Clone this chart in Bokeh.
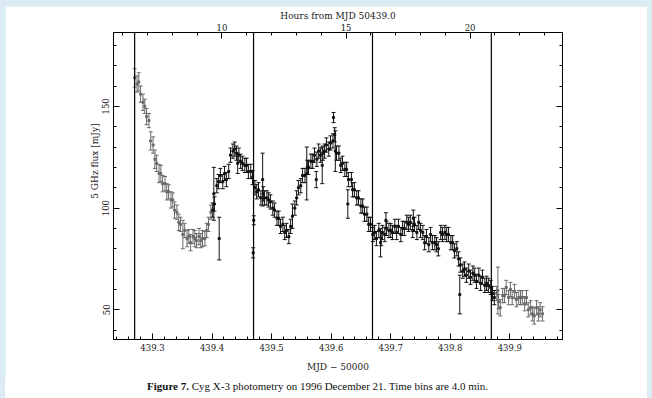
import numpy as np
from bokeh.plotting import figure
from bokeh.models import (ColumnDataSource, Whisker, TeeHead, Span, LinearAxis, Range1d,
                          SingleIntervalTicker, Title, CustomJSTickFormatter, Div)
from bokeh.layouts import column
from bokeh.embed import file_html
from bokeh.resources import INLINE

# ---------------- data (MJD - 50000, 5 GHz flux [mJy], 1-sigma error) ----------------
mjd = [
    439.270, 439.274, 439.277, 439.280, 439.284, 439.287, 439.290, 439.294, 439.297, 439.301,
    439.304, 439.307, 439.311, 439.314, 439.317, 439.321, 439.324, 439.327, 439.331, 439.334,
    439.337, 439.341, 439.344, 439.347, 439.351, 439.354, 439.358, 439.361, 439.364, 439.368,
    439.371, 439.374, 439.378, 439.381, 439.384, 439.388, 439.391, 439.394, 439.398, 439.401,
    439.403, 439.404, 439.408, 439.411, 439.412, 439.414, 439.418, 439.421, 439.424, 439.428,
    439.431, 439.435, 439.438, 439.441, 439.443, 439.445, 439.448, 439.451, 439.455, 439.458,
    439.461, 439.465, 439.468, 439.469, 439.470,
    439.472, 439.475, 439.478, 439.482, 439.485, 439.486, 439.488, 439.492, 439.495, 439.498,
    439.502, 439.505, 439.509, 439.512, 439.515, 439.519, 439.522, 439.525, 439.529, 439.532,
    439.535, 439.539, 439.542, 439.545, 439.549, 439.552, 439.556, 439.559, 439.560, 439.562,
    439.566, 439.569, 439.572, 439.575, 439.576, 439.579, 439.582, 439.585, 439.586, 439.589,
    439.592, 439.596, 439.599, 439.603, 439.604, 439.606, 439.607, 439.609, 439.613, 439.616,
    439.619, 439.623, 439.626, 439.628, 439.629, 439.634, 439.636, 439.639, 439.643, 439.646,
    439.650, 439.653, 439.656, 439.660, 439.663, 439.666, 439.670,
    439.673, 439.676, 439.680, 439.683, 439.684, 439.686, 439.690, 439.692, 439.693, 439.697,
    439.700, 439.703, 439.707, 439.710, 439.713, 439.717, 439.720, 439.723, 439.727, 439.730,
    439.733, 439.737, 439.738, 439.740, 439.744, 439.747, 439.750, 439.754, 439.757, 439.760,
    439.764, 439.767, 439.770, 439.774, 439.777, 439.780, 439.784, 439.787, 439.791, 439.794,
    439.797, 439.801, 439.804, 439.807, 439.811, 439.814, 439.816, 439.817, 439.821, 439.824,
    439.827, 439.831, 439.834, 439.838, 439.841, 439.844, 439.848, 439.851, 439.854, 439.858,
    439.861, 439.864, 439.868, 439.871,
    439.874, 439.878, 439.880, 439.881, 439.884, 439.888, 439.891, 439.894, 439.898, 439.901,
    439.904, 439.908, 439.911, 439.915, 439.918, 439.921, 439.925, 439.928, 439.931, 439.935,
    439.938, 439.941, 439.945, 439.948, 439.951, 439.955,
]
flux = [
    164, 161, 162, 156, 152, 150, 145, 143, 133, 131,
    124, 122, 117, 117, 112, 112, 108, 108, 104, 104,
    99, 98, 93, 92, 87, 89, 85, 86, 83, 86,
    85, 84, 86, 84, 85, 85, 89, 92, 98, 99,
    107, 102, 111, 113, 85, 116, 113, 117, 114, 118,
    126, 128, 129, 127, 122, 126, 123, 122, 121, 121,
    118, 118, 115, 78, 94,
    110, 108, 109, 105, 114, 107, 105, 105, 104, 103,
    100, 99, 95, 95, 91, 92, 88, 89, 86, 91,
    96, 100, 105, 110, 111, 116, 116, 117, 120, 120,
    123, 123, 126, 114, 124, 128, 126, 121, 127, 128,
    131, 129, 132, 133, 144.5, 136, 128, 127, 127, 121,
    122, 119, 119, 102, 114, 114, 109, 109, 105, 105,
    101, 101, 97, 97, 92, 92, 87,
    88, 85, 89, 83, 85, 88, 87, 94, 90, 89,
    89, 88, 91, 88, 91, 87, 90, 90, 93, 92,
    93, 89, 95, 92, 88, 93, 89, 88, 83, 86,
    82, 87, 83, 83, 82, 80, 88, 87, 88, 87,
    87, 83, 83, 79, 80, 75, 57.5, 72, 69, 70,
    67, 69, 66, 68, 67, 64, 67, 63, 66, 62,
    63, 62, 61, 58,
    56, 58, 59.5, 54, 51, 57, 57, 61, 56, 60,
    56, 59, 55, 56, 56, 56, 53, 56, 50, 51,
    48, 47, 51, 48, 50, 48,
]
err = [
    4.5, 4, 4.5, 4, 4, 3.5, 4, 3.5, 4.5, 4,
    4.5, 4, 4.5, 4, 4, 3.5, 4, 3.5, 4, 3.5,
    4, 3.5, 4, 3.5, 7, 3.5, 4, 3.5, 4, 3.5,
    4, 3.5, 4, 3.5, 4, 3.5, 3.5, 3.5, 3.5, 3.5,
    13, 3.5, 3.5, 3.5, 10.5, 3.5, 3.5, 3.5, 3.5, 3.5,
    3.5, 3.5, 3.5, 3.5, 5, 3.5, 3.5, 3.5, 3.5, 3.5,
    3.5, 3.5, 3.5, 2.5, 2.2,
    3.5, 3.5, 3.5, 3.5, 13, 3.5, 3.5, 3.5, 3.5, 3.5,
    3.5, 3.5, 3.5, 3.5, 3.5, 3.5, 3.5, 3.5, 3.5, 3.5,
    6, 3.5, 3.5, 3.5, 3.5, 3.5, 3.5, 13, 3.5, 3.5,
    3.5, 3.5, 3.5, 4, 3.5, 3.5, 3.5, 9, 3.5, 3.5,
    3.5, 3.5, 3.5, 3.5, 2.5, 3.5, 10, 3.5, 3.5, 3.5,
    3.5, 3.5, 3.5, 7, 3.5, 3.5, 3.5, 3.5, 3.5, 3.5,
    3.5, 3.5, 3.5, 3.5, 3.5, 3.5, 3.5,
    3.5, 3.5, 3.5, 7, 3.5, 3.5, 3.5, 3.7, 3.5, 3.5,
    3.5, 3.5, 3.5, 3.5, 3.5, 3.5, 3.5, 3.5, 3.5, 3.5,
    3.5, 3.5, 4, 3.5, 3.5, 3.5, 3.5, 3.5, 3.5, 3.5,
    3.5, 3.5, 3.5, 3.5, 3.5, 3.5, 3.5, 3.5, 3.5, 3.5,
    3.5, 3.5, 3.5, 3.5, 3.5, 3.5, 9.5, 3.5, 3.5, 3.5,
    3.5, 3.5, 3.5, 3.5, 3.5, 3.5, 3.5, 3.5, 3.5, 3.5,
    3.5, 3.5, 3.5, 3.5,
    3.5, 3.5, 11.5, 3.5, 4, 3.5, 3.5, 3.5, 3.5, 3.5,
    3.5, 3.5, 3.5, 3.5, 3.5, 3.5, 3.5, 3.5, 3.5, 3.5,
    3.5, 4, 3.5, 3.5, 3.5, 3.5,
]
orbit_lines = [439.270, 439.4697, 439.6694, 439.869]   # Cyg X-3 orbital cycle markers
x_limits = [439.2345, 439.9885]
y_limits = [35.4, 186.3]
hours_origin = 439.0

t = np.array(mjd)
f = np.array(flux)
e = np.array(err)

FONT = "DejaVu Serif"
INK = "#1a1a1a"

p = figure(width=642, height=372,
           x_range=Range1d(*x_limits), y_range=Range1d(*y_limits),
           x_axis_location="below", y_axis_location="left",
           output_backend="svg", toolbar_location=None,
           min_border_left=108, min_border_right=85, min_border_top=26, min_border_bottom=39,
           background_fill_color="white", border_fill_color="white")
p.margin = (6, 5, 0, 5)
p.xgrid.visible = False
p.ygrid.visible = False
p.outline_line_color = "black"
p.outline_line_width = 1

bottom = p.below[0]
left = p.left[0]

p.extra_x_ranges = {"hours": Range1d((x_limits[0] - hours_origin) * 24,
                                      (x_limits[1] - hours_origin) * 24)}
top = LinearAxis(x_range_name="hours", axis_label="Hours from MJD 50439.0",
                 ticker=SingleIntervalTicker(interval=5, num_minor_ticks=5))
p.add_layout(top, "above")
right = LinearAxis(ticker=SingleIntervalTicker(interval=50, num_minor_ticks=5),
                   formatter=CustomJSTickFormatter(code="return ''"))
p.add_layout(right, "right")

bottom.ticker = SingleIntervalTicker(interval=0.1, num_minor_ticks=5)
bottom.axis_label = "MJD \u2212 50000"
left.ticker = SingleIntervalTicker(interval=50, num_minor_ticks=5)
left.major_label_orientation = "vertical"

for ax in (bottom, left, top, right):
    ax.major_tick_in = 6
    ax.major_tick_out = 0
    ax.minor_tick_in = 3
    ax.minor_tick_out = 0
    ax.axis_line_color = "black"
    ax.major_tick_line_color = "black"
    ax.minor_tick_line_color = "black"
    ax.major_label_text_font = FONT
    ax.major_label_text_font_size = "8.5px"
    ax.major_label_text_color = INK
    ax.axis_label_text_font = FONT
    ax.axis_label_text_font_size = "9px"
    ax.axis_label_text_font_style = "normal"
    ax.axis_label_text_color = INK

bottom.major_label_standoff = 4
bottom.axis_label_standoff = 8
top.major_label_standoff = 2
top.axis_label_standoff = 0
left.major_label_standoff = 4

ylab = Title(text="5 GHz flux [mJy]", align="right", offset=91, standoff=0,
             text_font=FONT, text_font_size="9px", text_font_style="normal", text_color=INK)
p.add_layout(ylab, "left")

for loc in orbit_lines:
    p.add_layout(Span(location=loc, dimension="height", line_color="black", line_width=1.2))

gray = (t < 439.40) | (t > 439.874)
for mask, col in ((gray, "#6a6a6a"), (~gray, "#111111")):
    src = ColumnDataSource(dict(x=t[mask], y=f[mask], lower=f[mask] - e[mask], upper=f[mask] + e[mask]))
    p.add_layout(Whisker(source=src, base="x", lower="lower", upper="upper", dimension="height",
                         line_color=col, line_width=1,
                         lower_head=TeeHead(size=4, line_color=col, line_width=1),
                         upper_head=TeeHead(size=4, line_color=col, line_width=1)))
    p.scatter("x", "y", source=src, marker="square", size=2, color=col)

cap = Div(text="<b>Figure 7.</b> Cyg X-3 photometry on 1996 December 21. Time bins are 4.0 min.",
          width=642, height=20, margin=(0, 5, 0, 5),
          styles={"background-color": "white", "font-family": "'Liberation Serif'",
                  "font-size": "11px", "color": "#111", "padding-left": "142px",
                  "padding-top": "1px", "box-sizing": "border-box"})

page = column(p, cap, spacing=0, styles={"background-color": "#dbecf4"})

open("out.html", "w").write(file_html(page, INLINE))
